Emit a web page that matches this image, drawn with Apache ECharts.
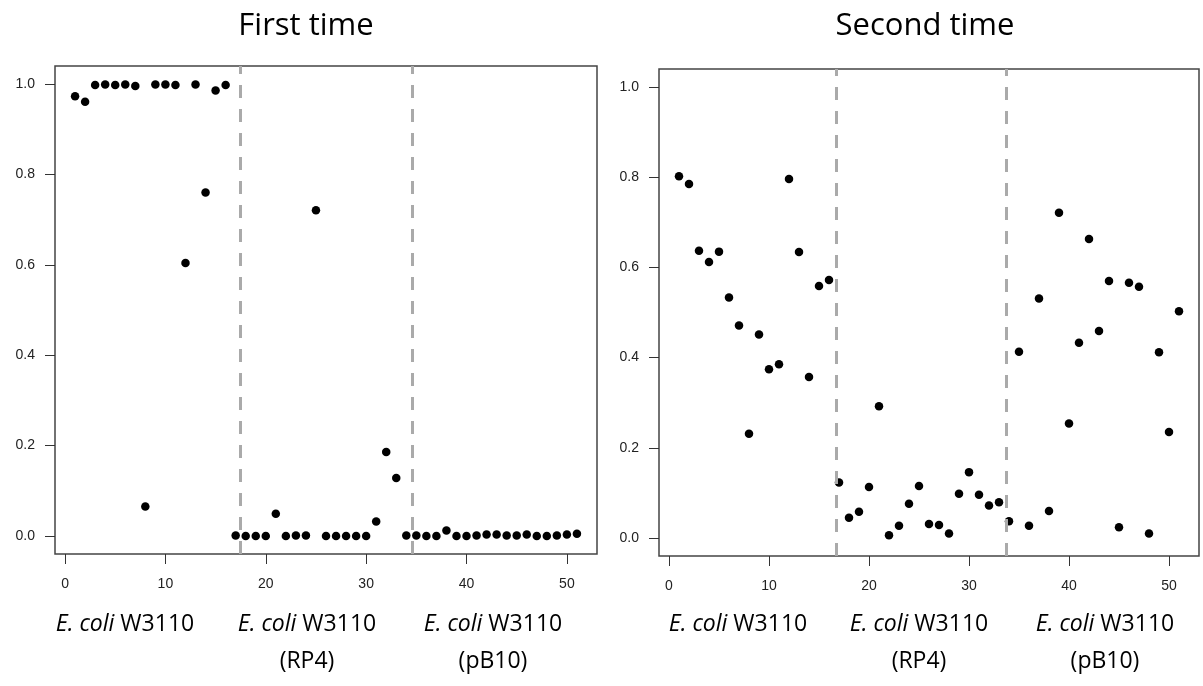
<!DOCTYPE html>
<html>
<head>
<meta charset="utf-8">
<script src="https://cdn.jsdelivr.net/npm/echarts@6/dist/echarts.min.js"></script>
<style>
  html, body { margin: 0; padding: 0; background: #fff; }
  #main { width: 1203px; height: 686px; }
</style>
</head>
<body>
<div id="main"></div>
<script>
// sample number on the x axis
const sampleIndex = [1, 2, 3, 4, 5, 6, 7, 8, 9, 10, 11, 12, 13, 14, 15, 16, 17, 18, 19, 20,
  21, 22, 23, 24, 25, 26, 27, 28, 29, 30, 31, 32, 33, 34, 35, 36, 37, 38, 39, 40,
  41, 42, 43, 44, 45, 46, 47, 48, 49, 50, 51];

// values
const firstTime = [0.973, 0.961, 0.998, 0.999, 0.998, 0.999, 0.996, 0.065, 0.999, 0.999,
  0.998, 0.604, 0.999, 0.760, 0.986, 0.998, 0.001, 0.0, 0.0, 0.0,
  0.049, 0.0, 0.001, 0.001, 0.721, 0.0, 0.0, 0.0, 0.0, 0.0,
  0.032, 0.186, 0.128, 0.001, 0.001, 0.0, 0.0, 0.012, 0.0, 0.0,
  0.001, 0.003, 0.003, 0.001, 0.001, 0.003, 0.0, 0.0, 0.001, 0.003, 0.005];

const secondTime = [0.802, 0.785, 0.637, 0.612, 0.635, 0.533, 0.471, 0.231, 0.451, 0.374,
  0.385, 0.796, 0.634, 0.357, 0.559, 0.572, 0.123, 0.045, 0.058, 0.113,
  0.292, 0.006, 0.027, 0.076, 0.115, 0.031, 0.029, 0.010, 0.098, 0.146,
  0.096, 0.072, 0.079, 0.037, 0.413, 0.027, 0.531, 0.060, 0.721, 0.254,
  0.433, 0.663, 0.459, 0.570, 0.024, 0.566, 0.557, 0.010, 0.412, 0.235, 0.503];

// group separators (dashed lines)
const dividersFirst = [17.5, 34.6];
const dividersSecond = [16.7, 33.7];

const panelTitles = ["First time", "Second time"];
const groupLabels = ["{i|E. coli} W3110", "{i|E. coli} W3110\n(RP4)", "{i|E. coli} W3110\n(pB10)"];

const xTicks = [0, 10, 20, 30, 40, 50];
const yTicks = [0, 0.2, 0.4, 0.6, 0.8, 1.0];

const chart = echarts.init(document.getElementById("main"), null, { renderer: "canvas" });

const toPairs = (vals) => vals.map((v, i) => [sampleIndex[i], v]);

const tickFont = { fontFamily: "Liberation Sans", fontSize: 14, color: "#222" };

const makeX = (gridIndex) => ({
  type: "value",
  gridIndex,
  min: -1,
  max: 53,
  axisLine: { show: false, onZero: false },
  splitLine: { show: false },
  axisTick: {
    show: true,
    length: 10,
    customValues: xTicks,
    lineStyle: { color: "#333", width: 1 },
  },
  axisLabel: {
    ...tickFont,
    margin: 23,
    customValues: xTicks,
  },
});

const makeY = (gridIndex) => ({
  type: "value",
  gridIndex,
  min: -0.04,
  max: 1.04,
  axisLine: { show: false, onZero: false },
  splitLine: { show: false },
  axisTick: {
    show: true,
    length: 10,
    customValues: yTicks,
    lineStyle: { color: "#333", width: 1 },
  },
  axisLabel: {
    ...tickFont,
    margin: 20,
    customValues: yTicks,
    formatter: (v) => v.toFixed(1),
  },
});

const dividerLine = (vals) => ({
  silent: true,
  symbol: "none",
  label: { show: false },
  lineStyle: { color: "#aaaaaa", width: 3, type: [13, 11] },
  data: vals.map((v) => ({ xAxis: v })),
});

const labelStyle = (text, x, y) => ({
  type: "text",
  x,
  y,
  style: {
    text,
    fill: "#000",
    fontFamily: "Open Sans",
    fontSize: 23,
    lineHeight: 37,
    textAlign: "center",
    textVerticalAlign: "top",
    rich: {
      i: { fontStyle: "italic", fontFamily: "Open Sans", fontSize: 23, lineHeight: 37 },
    },
  },
});

const titleText = (text, x) => ({
  type: "text",
  x,
  y: 26,
  style: {
    text,
    fill: "#000",
    fontFamily: "Open Sans",
    fontSize: 31,
    textAlign: "center",
    textVerticalAlign: "middle",
  },
});

const option = {
  backgroundColor: "#fff",
  animation: false,
  grid: [
    { left: 55, top: 66, width: 542, height: 488, show: true, borderColor: "#444", borderWidth: 1.5 },
    { left: 659, top: 69, width: 540, height: 487, show: true, borderColor: "#444", borderWidth: 1.5 },
  ],
  xAxis: [makeX(0), makeX(1)],
  yAxis: [makeY(0), makeY(1)],
  series: [
    {
      name: panelTitles[0],
      type: "scatter",
      xAxisIndex: 0,
      yAxisIndex: 0,
      data: toPairs(firstTime),
      symbol: "circle",
      symbolSize: 8.5,
      itemStyle: { color: "#000", opacity: 1 },
      markLine: dividerLine(dividersFirst),
    },
    {
      name: panelTitles[1],
      type: "scatter",
      xAxisIndex: 1,
      yAxisIndex: 1,
      data: toPairs(secondTime),
      symbol: "circle",
      symbolSize: 8.5,
      itemStyle: { color: "#000", opacity: 1 },
      markLine: dividerLine(dividersSecond),
    },
  ],
  graphic: [
    titleText(panelTitles[0], 306),
    titleText(panelTitles[1], 925),
    labelStyle(groupLabels[0], 125, 606),
    labelStyle(groupLabels[1], 307, 606),
    labelStyle(groupLabels[2], 493, 606),
    labelStyle(groupLabels[0], 738, 606),
    labelStyle(groupLabels[1], 919, 606),
    labelStyle(groupLabels[2], 1105, 606),
  ],
};

chart.setOption(option);
</script>
</body>
</html>
